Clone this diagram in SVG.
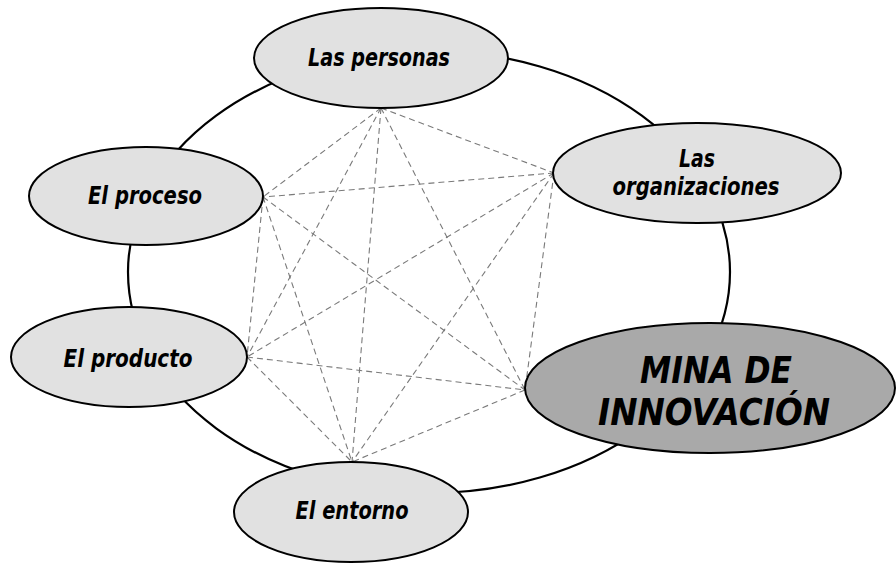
<svg xmlns="http://www.w3.org/2000/svg" width="896" height="563" viewBox="0 0 896 563">
<style>
.ring{fill:none;stroke:#000;stroke-width:2.2}
.web{stroke:#7a7a7a;stroke-width:1.1;stroke-dasharray:6 4;fill:none}
.node{fill:#e1e1e1;stroke:#000;stroke-width:2}
.main{fill:#a9a9a9;stroke:#000;stroke-width:2}
.lbl{font-family:"DejaVu Sans","Verdana",sans-serif;font-weight:bold;font-style:italic;font-size:25px;fill:#000;text-anchor:middle}
.big{font-size:37px}
</style>
<rect width="896" height="563" fill="#fff"/>
<g id="connectors">
<ellipse class="ring" cx="429" cy="272" rx="301" ry="221"/>
<g class="web">
<line x1="381" y1="108" x2="554" y2="173"/>
<line x1="381" y1="108" x2="263" y2="197"/>
<line x1="381" y1="108" x2="247" y2="357"/>
<line x1="381" y1="108" x2="525" y2="390"/>
<line x1="381" y1="108" x2="352" y2="462"/>
<line x1="554" y1="173" x2="263" y2="197"/>
<line x1="554" y1="173" x2="247" y2="357"/>
<line x1="554" y1="173" x2="525" y2="390"/>
<line x1="554" y1="173" x2="352" y2="462"/>
<line x1="263" y1="197" x2="247" y2="357"/>
<line x1="263" y1="197" x2="525" y2="390"/>
<line x1="263" y1="197" x2="352" y2="462"/>
<line x1="247" y1="357" x2="525" y2="390"/>
<line x1="247" y1="357" x2="352" y2="462"/>
<line x1="525" y1="390" x2="352" y2="462"/>
</g>
</g>
<g id="node-personas">
<ellipse class="node" cx="381" cy="58" rx="127" ry="50"/>
<text class="lbl" x="379" y="66" textLength="142" lengthAdjust="spacingAndGlyphs">Las personas</text>
</g>
<g id="node-organizaciones">
<ellipse class="node" cx="697" cy="173" rx="144" ry="50"/>
<text class="lbl" x="697" y="167" textLength="36" lengthAdjust="spacingAndGlyphs">Las</text>
<text class="lbl" x="696" y="195" textLength="167" lengthAdjust="spacingAndGlyphs">organizaciones</text>
</g>
<g id="node-proceso">
<ellipse class="node" cx="146" cy="196" rx="117" ry="49"/>
<text class="lbl" x="145" y="204" textLength="114" lengthAdjust="spacingAndGlyphs">El proceso</text>
</g>
<g id="node-producto">
<ellipse class="node" cx="129" cy="357" rx="118" ry="50"/>
<text class="lbl" x="128" y="367" textLength="129" lengthAdjust="spacingAndGlyphs">El producto</text>
</g>
<g id="node-entorno">
<ellipse class="node" cx="351" cy="512" rx="117" ry="50"/>
<text class="lbl" x="352" y="519" textLength="113" lengthAdjust="spacingAndGlyphs">El entorno</text>
</g>
<g id="node-mina">
<ellipse class="main" cx="710" cy="388" rx="185" ry="65"/>
<text class="lbl big" x="716" y="383" textLength="152" lengthAdjust="spacingAndGlyphs">MINA DE</text>
<text class="lbl big" x="714" y="425" textLength="232" lengthAdjust="spacingAndGlyphs">INNOVACIÓN</text>
</g>
</svg>
